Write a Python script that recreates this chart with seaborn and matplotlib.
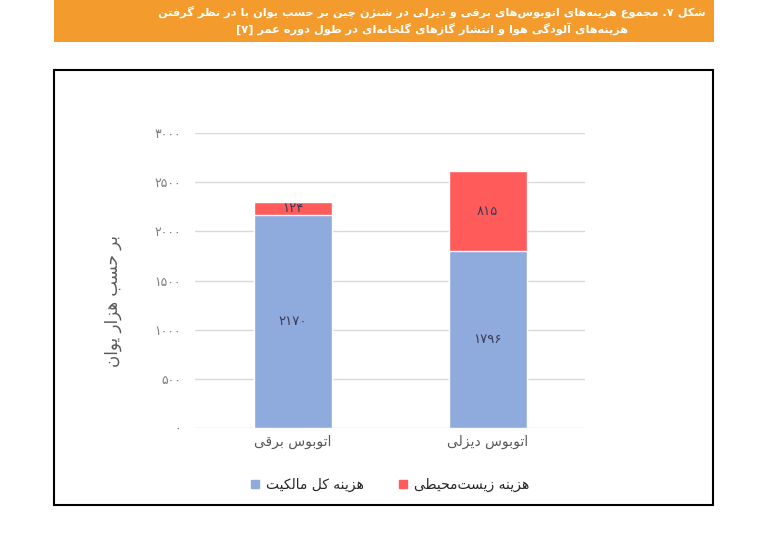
import re
import seaborn as sns
import pandas as pd
import matplotlib.pyplot as plt
from matplotlib.patches import Rectangle, Patch

# داده‌ها
title_lines = [
    'شکل ۷. مجموع هزینه‌های اتوبوس‌های برقی و دیزلی در شنژن چین بر حسب یوان با در نظر گرفتن',
    'هزینه‌های آلودگی هوا و انتشار گازهای گلخانه‌ای در طول دوره عمر [۷]',
]
categories = ['اتوبوس برقی', 'اتوبوس دیزلی']
ownership = [2170, 1796]
environmental = [124, 815]
series_names = ['هزینه کل مالکیت', 'هزینه زیست‌محیطی']
y_label = 'بر حسب هزار یوان'
y_ticks = [0, 500, 1000, 1500, 2000, 2500, 3000]

blue = '#8FAADC'
red = '#FF5B5B'

# contextual forms: isolated, final, initial, medial
FORMS = {
    '\u0622': (0xFE81, 0xFE82),
    '\u0627': (0xFE8D, 0xFE8E),
    '\u0628': (0xFE8F, 0xFE90, 0xFE91, 0xFE92),
    '\u062A': (0xFE95, 0xFE96, 0xFE97, 0xFE98),
    '\u062C': (0xFE9D, 0xFE9E, 0xFE9F, 0xFEA0),
    '\u062D': (0xFEA1, 0xFEA2, 0xFEA3, 0xFEA4),
    '\u062E': (0xFEA5, 0xFEA6, 0xFEA7, 0xFEA8),
    '\u062F': (0xFEA9, 0xFEAA),
    '\u0631': (0xFEAD, 0xFEAE),
    '\u0632': (0xFEAF, 0xFEB0),
    '\u0698': (0xFB8A, 0xFB8B),
    '\u0633': (0xFEB1, 0xFEB2, 0xFEB3, 0xFEB4),
    '\u0634': (0xFEB5, 0xFEB6, 0xFEB7, 0xFEB8),
    '\u0637': (0xFEC1, 0xFEC2, 0xFEC3, 0xFEC4),
    '\u0638': (0xFEC5, 0xFEC6, 0xFEC7, 0xFEC8),
    '\u0639': (0xFEC9, 0xFECA, 0xFECB, 0xFECC),
    '\u0641': (0xFED1, 0xFED2, 0xFED3, 0xFED4),
    '\u0642': (0xFED5, 0xFED6, 0xFED7, 0xFED8),
    '\u0644': (0xFEDD, 0xFEDE, 0xFEDF, 0xFEE0),
    '\u0645': (0xFEE1, 0xFEE2, 0xFEE3, 0xFEE4),
    '\u0646': (0xFEE5, 0xFEE6, 0xFEE7, 0xFEE8),
    '\u0647': (0xFEE9, 0xFEEA, 0xFEEB, 0xFEEC),
    '\u0648': (0xFEED, 0xFEEE),
    '\u067E': (0xFB56, 0xFB57, 0xFB58, 0xFB59),
    '\u0686': (0xFB7A, 0xFB7B, 0xFB7C, 0xFB7D),
    '\u06A9': (0xFB8E, 0xFB8F, 0xFB90, 0xFB91),
    '\u06AF': (0xFB92, 0xFB93, 0xFB94, 0xFB95),
    '\u06CC': (0xFBFC, 0xFBFD, 0xFBFE, 0xFBFF),
}
MIRROR = str.maketrans('[]()', '][)(')
FA = str.maketrans('0123456789', '۰۱۲۳۴۵۶۷۸۹')


def fa(v):
    return str(v).translate(FA)


def shape(text):
    text = text.replace('\u064A', '\u06CC').replace('\u0643', '\u06A9')
    out = []
    for i, ch in enumerate(text):
        f = FORMS.get(ch)
        if f is None:
            out.append(ch)
            continue
        prev = text[i - 1] if i > 0 else ''
        nxt = text[i + 1] if i < len(text) - 1 else ''
        join_prev = len(FORMS.get(prev, ())) == 4
        join_next = len(f) == 4 and nxt in FORMS
        idx = 3 if (join_prev and join_next) else 1 if join_prev else 2 if join_next else 0
        out.append(chr(f[idx]))
    return ''.join(out).replace('\u200c', '')


def rtl(text):
    # matplotlib has no bidi: shape letters and lay them out right to left
    parts = re.findall(r'[0-9\u06F0-\u06F9]+|.', shape(text))
    return ''.join(p.translate(MIRROR) for p in reversed(parts))


df = pd.DataFrame({
    'bus': [rtl(c) for c in categories],
    'own': ownership,
    'env': environmental,
})
df['total'] = df['own'] + df['env']

sns.set_style('white')
plt.rcParams['font.family'] = ['DejaVu Sans']

fig = plt.figure(figsize=(7.65, 5.41), dpi=100)
ax = fig.add_axes([0.255, 0.209, 0.51, 0.545])

sns.barplot(data=df, x='bus', y='total', color=red, width=0.4, saturation=1, ax=ax)
sns.barplot(data=df, x='bus', y='own', color=blue, width=0.4, saturation=1, ax=ax)

ax.bar_label(ax.containers[1], labels=[fa(v) for v in df['own']],
             label_type='center', fontsize=9.5, color='#3b3b55')
for i, row in df.iterrows():
    ax.text(i, row['own'] + row['env'] / 2, fa(row['env']), ha='center', va='center',
            fontsize=9.5, color='#3b3b55')

ax.set_ylim(0, 3000)
ax.set_xlim(-0.5, 1.5)
ax.set_yticks(y_ticks)
ax.set_yticklabels([fa(v) for v in y_ticks], fontsize=9, color='#7f7f7f')
ax.tick_params(axis='y', length=0, pad=10)
ax.tick_params(axis='x', length=0, pad=5, labelsize=10, labelcolor='#595959')
ax.set_xlabel('')
ax.set_ylabel('')
ax.yaxis.grid(True, color='#d9d9d9', lw=1)
ax.set_axisbelow(True)
sns.despine(ax=ax, left=True, bottom=True)

fig.text(113 / 765, 1 - 301 / 541, rtl(y_label), rotation=90, ha='center', va='center',
         fontsize=12, color='#595959')

handles = [Patch(color=blue), Patch(color=red)]
fig.legend(handles, [rtl(s) for s in series_names], loc='center',
           bbox_to_anchor=(390 / 765, 1 - 485 / 541), ncol=2, frameon=False, fontsize=10,
           handlelength=0.6, handleheight=0.6, handletextpad=0.5, columnspacing=2.5)

# orange caption band and the frame around the chart
fig.add_artist(Rectangle((54 / 765, 1 - 42 / 541), 660 / 765, 42 / 541,
                         transform=fig.transFigure, color='#F39B2D', lw=0))
fig.add_artist(Rectangle((54 / 765, 1 - 505 / 541), 659 / 765, 435 / 541,
                         transform=fig.transFigure, fill=False, ec='black', lw=1.5))
for k, line in enumerate(title_lines):
    fig.text(432 / 765, 1 - (12 + 17 * k) / 541, rtl(line), ha='center', va='center',
             color='white', fontsize=8.2, fontweight='bold')

fig.savefig('out.png', dpi=100)
